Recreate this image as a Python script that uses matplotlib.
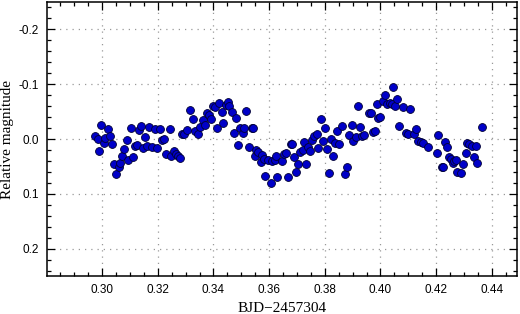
import matplotlib
matplotlib.use("Agg")
import matplotlib.pyplot as plt
from matplotlib.ticker import MultipleLocator, FormatStrFormatter

# === DATA ===
bjd = [
    0.2975, 0.2984, 0.2990, 0.2997, 0.3005, 0.3011, 0.3020, 0.3027, 0.3035, 0.3041,
    0.3050, 0.3059, 0.3065, 0.3071, 0.3080, 0.3088, 0.3094, 0.3103, 0.3110, 0.3119,
    0.3127, 0.3134, 0.3139, 0.3146, 0.3153, 0.3161, 0.3170, 0.3179, 0.3190, 0.3198,
    0.3207, 0.3214, 0.3223, 0.3228, 0.3243, 0.3248, 0.3259, 0.3264, 0.3272, 0.3280,
    0.3288, 0.3296, 0.3305, 0.3316, 0.3325, 0.3333, 0.3346, 0.3352, 0.3362, 0.3370,
    0.3376, 0.3385, 0.3393, 0.3398, 0.3406, 0.3413, 0.3421, 0.3429, 0.3436, 0.3445,
    0.3451, 0.3457, 0.3466, 0.3474, 0.3481, 0.3489, 0.3496, 0.3505, 0.3510, 0.3518,
    0.3526, 0.3537, 0.3543, 0.3548, 0.3554, 0.3561, 0.3571, 0.3575, 0.3582, 0.3586,
    0.3595, 0.3606, 0.3610, 0.3620, 0.3623, 0.3630, 0.3646, 0.3654, 0.3660, 0.3667,
    0.3677, 0.3683, 0.3690, 0.3696, 0.3705, 0.3712, 0.3721, 0.3726, 0.3734, 0.3740,
    0.3748, 0.3755, 0.3762, 0.3771, 0.3777, 0.3786, 0.3793, 0.3801, 0.3807, 0.3816,
    0.3822, 0.3829, 0.3837, 0.3843, 0.3852, 0.3861, 0.3873, 0.3881, 0.3888, 0.3897,
    0.3903, 0.3912, 0.3919, 0.3927, 0.3935, 0.3941, 0.3960, 0.3965, 0.3975, 0.3981,
    0.3987, 0.3993, 0.4000, 0.4008, 0.4017, 0.4025, 0.4033, 0.4041, 0.4046, 0.4053,
    0.4061, 0.4068, 0.4082, 0.4091, 0.4099, 0.4105, 0.4120, 0.4127, 0.4135, 0.4145,
    0.4152, 0.4171, 0.4202, 0.4208, 0.4220, 0.4225, 0.4231, 0.4239, 0.4246, 0.4254,
    0.4260, 0.4265, 0.4272, 0.4276, 0.4289, 0.4298, 0.4306, 0.4311, 0.4318, 0.4328,
    0.4335, 0.4342, 0.4348, 0.4364,
]
rel_mag = [
    -0.0055, 0.0005, 0.0220, -0.0256, 0.0073, -0.0013, -0.0177, -0.0064, 0.0100, 0.0447,
    0.0639, 0.0511, 0.0433, 0.0310, 0.0188, 0.0018, 0.0378, -0.0192, 0.0329, 0.0128,
    0.0115, -0.0164, -0.0241, 0.0157, -0.0031, 0.0122, -0.0225, 0.0146, -0.0188, 0.0161,
    -0.0177, 0.0009, 0.0005, 0.0265, -0.0177, 0.0301, 0.0214, 0.0268, 0.0310, 0.0353,
    -0.0091, -0.0097, -0.0170, -0.0521, -0.0360, -0.0152, -0.0091, -0.0225, -0.0347, -0.0247,
    -0.0469, -0.0429, -0.0360, -0.0603, -0.0590, -0.0195, -0.0658, -0.0484, -0.0298, -0.0612,
    -0.0681, -0.0603, -0.0484, -0.0115, -0.0378, 0.0110, -0.0195, -0.0115, -0.0195, -0.0517,
    0.0146, -0.0195, -0.0195, 0.0310, 0.0201, 0.0241, 0.0415, 0.0292, 0.0365, 0.0676,
    0.0374, 0.0798, 0.0393, 0.0374, 0.0301, 0.0689, 0.0405, 0.0265, 0.0261, 0.0694,
    0.0100, 0.0100, 0.0329, 0.0597, 0.0451, 0.0232, 0.0206, 0.0049, 0.0457, 0.0141,
    0.0225, 0.0009, -0.0055, -0.0091, 0.0170, -0.0360, 0.0037, -0.0195, 0.0177, 0.0621,
    -0.0004, 0.0310, 0.0068, -0.0152, 0.0084, -0.0237, 0.0639, 0.0517, -0.0082, -0.0256,
    0.0040, -0.0031, -0.0603, -0.0214, -0.0055, -0.0073, -0.0469, -0.0480, -0.0124, -0.0142,
    -0.0639, -0.0378, -0.0407, -0.0690, -0.0804, -0.0630, -0.0648, -0.0639, -0.0955, -0.0603,
    -0.0725, -0.0237, -0.0579, -0.0115, -0.0097, -0.0544, -0.0091, -0.0188, 0.0031, 0.0051,
    0.0068, 0.0152, 0.0261, -0.0082, 0.0511, 0.0506, 0.0049, 0.0152, 0.0323, 0.0362,
    0.0433, 0.0393, 0.0384, 0.0603, 0.0626, 0.0457, 0.0261, 0.0068, 0.0086, 0.0128,
    0.0323, 0.0128, 0.0433, -0.0214,
]

plt.rcParams['axes.unicode_minus'] = False

fig = plt.figure(figsize=(5.2, 3.14), dpi=100)
ax = fig.add_axes([0.0904, 0.121, 0.904, 0.8726])

ax.scatter(bjd, rel_mag, s=32, facecolor='#0000c8', edgecolor='#000033',
           linewidths=0.6, zorder=3)

ax.set_xlim(0.2802, 0.4491)
ax.set_ylim(0.25, -0.25)

ax.xaxis.set_major_locator(MultipleLocator(0.02))
ax.xaxis.set_minor_locator(MultipleLocator(0.005))
ax.yaxis.set_major_locator(MultipleLocator(0.1))
ax.yaxis.set_minor_locator(MultipleLocator(0.02))
ax.xaxis.set_major_formatter(FormatStrFormatter('%.2f'))
ax.yaxis.set_major_formatter(FormatStrFormatter('%.1f'))

ax.tick_params(which='both', direction='in', top=True, right=True, width=0.9)
ax.tick_params(which='major', length=6, labelsize=8.5, pad=6)
ax.tick_params(which='minor', length=3)
for lab in ax.get_xticklabels() + ax.get_yticklabels():
    lab.set_family('Liberation Sans')

for sp in ax.spines.values():
    sp.set_linewidth(1.1)

ax.grid(True, which='major', color='#999999', linestyle=(0, (1, 4)), linewidth=0.9)
ax.set_axisbelow(True)

ax.set_xlabel('BJD\u22122457304', family='Liberation Serif', fontsize=11, labelpad=4)
ax.set_ylabel('Relative magnitude', family='Liberation Serif', fontsize=11,
              va='center')
ax.yaxis.set_label_coords(-0.083, 0.5)

fig.savefig('out.png', dpi=100)
